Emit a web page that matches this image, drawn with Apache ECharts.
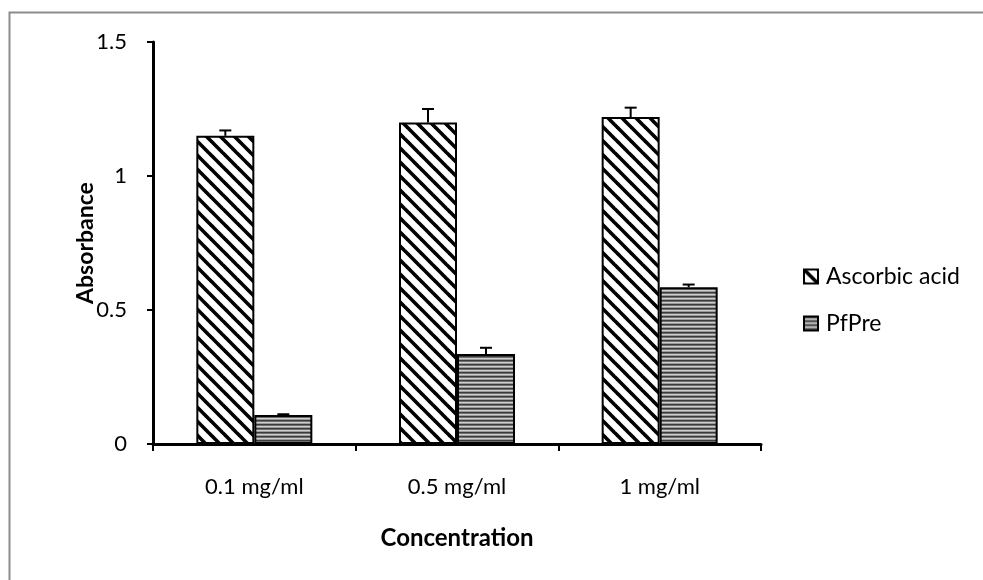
<!DOCTYPE html>
<html>
<head>
<meta charset="utf-8">
<script src="https://cdn.jsdelivr.net/npm/echarts@6/dist/echarts.min.js"></script>
<style>
  html, body { margin: 0; padding: 0; background: #fff; }
  #chart { width: 983px; height: 580px; }
</style>
</head>
<body>
<div id="chart"></div>
<script>
// Absorbance of ascorbic acid vs. PfPre at three concentrations
const categories = ['0.1 mg/ml', '0.5 mg/ml', '1 mg/ml'];
const seriesNames = ['Ascorbic acid', 'PfPre'];
const ascorbicValues = [1.15, 1.20, 1.22];
const ascorbicErrors = [0.02, 0.05, 0.035];
const pfpreValues = [0.108, 0.336, 0.585];
const pfpreErrors = [0.003, 0.023, 0.01];
const yTicks = [0, 0.5, 1, 1.5];

const FONT = 'Lato, "Open Sans", sans-serif';
const BAR_W = 58;

// Fill patterns: backslash hatching and fine horizontal lines
function diagonalPattern() {
  const s = 14;
  const c = document.createElement('canvas');
  c.width = s; c.height = s;
  const g = c.getContext('2d');
  g.fillStyle = '#fff';
  g.fillRect(0, 0, s, s);
  g.strokeStyle = '#000';
  g.lineWidth = 3.6;
  g.lineCap = 'square';
  for (let k = -1; k <= 1; k++) {
    g.beginPath();
    g.moveTo(k * s - 2, -2);
    g.lineTo(k * s + s + 2, s + 2);
    g.stroke();
  }
  return c;
}
function horizontalPattern() {
  const c = document.createElement('canvas');
  c.width = 4; c.height = 4;
  const g = c.getContext('2d');
  const rows = ['#3c3c3c', '#6e6e6e', '#cfcfcf', '#9a9a9a'];
  rows.forEach((col, i) => { g.fillStyle = col; g.fillRect(0, i, 4, 1); });
  return c;
}

const diagFill = { image: diagonalPattern(), repeat: 'repeat' };
const horizFill = { image: horizontalPattern(), repeat: 'repeat' };

// Upper error whiskers drawn on top of each bar
function errorSeries(values, errors, offset) {
  return {
    type: 'custom',
    z: 5,
    silent: true,
    data: values.map((v, i) => [i, v, v + errors[i]]),
    renderItem: function (params, api) {
      const base = api.coord([api.value(0), api.value(1)]);
      const top = api.coord([api.value(0), api.value(2)]);
      const x = base[0] + offset;
      const half = 6;
      return {
        type: 'group',
        children: [
          { type: 'line', shape: { x1: x, y1: base[1], x2: x, y2: top[1] },
            style: { stroke: '#000', lineWidth: 2 } },
          { type: 'line', shape: { x1: x - half, y1: top[1], x2: x + half, y2: top[1] },
            style: { stroke: '#000', lineWidth: 2 } }
        ]
      };
    }
  };
}

const chart = echarts.init(document.getElementById('chart'), null, { renderer: 'canvas' });

chart.setOption({
  animation: false,
  backgroundColor: '#fff',
  textStyle: { fontFamily: FONT },
  graphic: [
    { type: 'polyline', z: 0,
      shape: { points: [[9.5, 600], [9.5, 12.5], [1000, 12.5]] },
      style: { stroke: '#8c8c8c', lineWidth: 2, fill: null } }
  ],
  grid: { left: 153, right: 222, top: 42, bottom: 136, containLabel: false },
  legend: {
    orient: 'vertical',
    left: 798,
    top: 260,
    itemWidth: 14,
    itemHeight: 14,
    itemGap: 24,
    icon: 'rect',
    data: seriesNames,
    textStyle: { fontFamily: FONT, fontSize: 23, color: '#000', padding: [0, 0, 0, 3] }
  },
  xAxis: {
    type: 'category',
    data: categories,
    name: 'Concentration',
    nameLocation: 'middle',
    nameGap: 82,
    nameTextStyle: { fontFamily: FONT, fontSize: 24, fontWeight: 'bold', color: '#000' },
    axisLine: { lineStyle: { color: '#000', width: 3 } },
    axisTick: { show: true, length: 7, lineStyle: { color: '#000', width: 2 } },
    axisLabel: { margin: 32, fontFamily: FONT, fontSize: 22, color: '#000' },
    splitLine: { show: false }
  },
  yAxis: {
    type: 'value',
    min: yTicks[0],
    max: yTicks[yTicks.length - 1],
    interval: 0.5,
    name: 'Absorbance',
    nameLocation: 'middle',
    nameGap: 56,
    nameRotate: 90,
    nameMoveOverlap: false,
    nameTextStyle: { fontFamily: FONT, fontSize: 23, fontWeight: 'bold', color: '#000' },
    axisLine: { show: true, lineStyle: { color: '#000', width: 3 } },
    axisTick: { show: true, length: 6, lineStyle: { color: '#000', width: 2 } },
    axisLabel: { margin: 26, fontFamily: FONT, fontSize: 22, color: '#000',
      formatter: v => String(v) },
    splitLine: { show: false }
  },
  series: [
    {
      name: seriesNames[0],
      type: 'bar',
      data: ascorbicValues,
      barWidth: BAR_W,
      barGap: '0%',
      itemStyle: { color: diagFill, borderColor: '#000', borderWidth: 2 }
    },
    {
      name: seriesNames[1],
      type: 'bar',
      data: pfpreValues,
      barWidth: BAR_W,
      barGap: '0%',
      itemStyle: { color: horizFill, borderColor: '#000', borderWidth: 2 }
    },
    errorSeries(ascorbicValues, ascorbicErrors, -BAR_W / 2),
    errorSeries(pfpreValues, pfpreErrors, BAR_W / 2)
  ]
});
</script>
</body>
</html>
